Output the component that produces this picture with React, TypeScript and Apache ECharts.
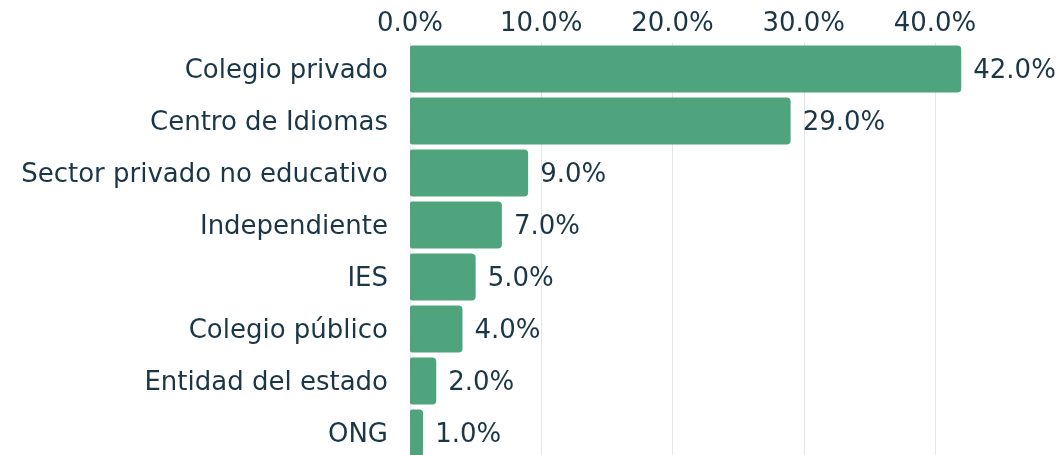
import React, { useEffect, useRef } from "react";
import * as echarts from "echarts";

const categories = [
  "Colegio privado",
  "Centro de Idiomas",
  "Sector privado no educativo",
  "Independiente",
  "IES",
  "Colegio público",
  "Entidad del estado",
  "ONG",
];
const values = [42, 29, 9, 7, 5, 4, 2, 1];

const TEXT = "#1b3747";
const FONT = "DejaVu Sans";
const FS = 26;
const FW = "normal";

export default function App() {
  const ref = useRef<HTMLDivElement>(null);
  useEffect(() => {
    const chart = echarts.init(ref.current!, null, { renderer: "svg" });
    chart.setOption({
      animation: false,
      grid: { left: 410, top: 43, width: 525, height: 416 },
      xAxis: {
        type: "value",
        position: "top",
        min: 0,
        max: 40,
        interval: 10,
        axisLine: { show: false },
        axisTick: { show: false },
        splitLine: { show: true, lineStyle: { color: "#e6e6e6", width: 1 } },
        axisLabel: {
          color: TEXT,
          fontFamily: FONT,
          fontSize: FS,
          fontWeight: FW,
          margin: 8,
          formatter: (v: number) => v.toFixed(1) + "%",
        },
      },
      yAxis: {
        type: "category",
        data: categories,
        inverse: true,
        axisLine: { show: false },
        axisTick: { show: false },
        axisLabel: { color: TEXT, fontFamily: FONT, fontSize: FS, fontWeight: FW, margin: 22 },
      },
      series: [
        {
          type: "bar",
          data: values,
          barWidth: 47,
          clip: false,
          itemStyle: { color: "#4fa37d", borderRadius: [2, 4, 4, 2] },
          label: {
            show: true,
            position: "right",
            distance: 12,
            color: TEXT,
            fontFamily: FONT,
            fontSize: FS,
            fontWeight: FW,
            formatter: (p: any) => Number(p.value).toFixed(1) + "%",
          },
        },
      ],
    });
    return () => chart.dispose();
  }, []);
  return (
    <div
      ref={ref}
      style={{ position: "fixed", left: 0, top: 0, width: 1060, height: 470 }}
    />
  );
}
